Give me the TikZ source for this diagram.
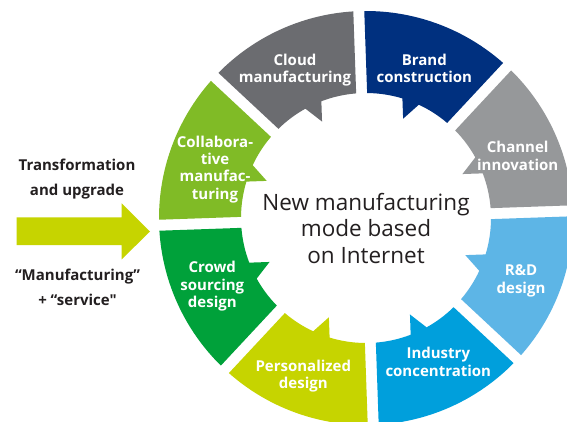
\documentclass[tikz,border=0pt]{standalone}
\usepackage{fontspec}
\newfontfamily\osans{Open Sans}
\definecolor{cCloud}{HTML}{6B6C70}
\definecolor{cBrand}{HTML}{00307F}
\definecolor{cChannel}{HTML}{96989A}
\definecolor{cRD}{HTML}{5DB5E6}
\definecolor{cIndustry}{HTML}{009FDC}
\definecolor{cPerson}{HTML}{C6D400}
\definecolor{cCrowd}{HTML}{00A13A}
\definecolor{cCollab}{HTML}{80BB26}
\definecolor{cText}{HTML}{231F20}
\tikzset{
  ringseg/.pic={
    \path[pic actions] (46.52:207) arc[start angle=46.52,end angle=88.48,radius=207]
      -- (87.48:125) arc[start angle=87.48,end angle=71.07,radius=125]
      -- (67.5:106) -- (63:125) arc[start angle=63,end angle=47.52,radius=125] -- cycle;
  },
  seglabel/.style={font=\osans\bfseries\fontsize{15}{17.3}\selectfont,text=white,align=center,anchor=base,inner sep=0pt},
  sidelabel/.style={font=\osans\bfseries\fontsize{15}{24.5}\selectfont,text=cText,align=center,anchor=base,inner sep=0pt},
  centerlabel/.style={font=\osans\fontsize{22.5}{26.5}\selectfont,text=cText,align=center,anchor=base,inner sep=0pt},
  bigarrow/.style={fill=cPerson,draw=none}
}
\begin{document}
\begin{tikzpicture}[x=1pt,y=-1pt]
\useasboundingbox (0,0) rectangle (567,421);
\clip (0,0) rectangle (567,421);
\fill[white] (0,0) rectangle (567,421);
\begin{scope}[shift={(366,218)},rotate=2,y=1pt]
  \pic[transform shape,fill=cBrand] (brand) {ringseg};
  \pic[transform shape,fill=cCloud,xscale=-1] (cloud) {ringseg};
  \pic[transform shape,fill=cChannel,cm={0,1,1,0,(0,0)}] (channel) {ringseg};
  \pic[transform shape,fill=cRD,rotate=-90] (rd) {ringseg};
  \pic[transform shape,fill=cIndustry,yscale=-1] (industry) {ringseg};
  \pic[transform shape,fill=cPerson,rotate=180] (person) {ringseg};
  \pic[transform shape,fill=cCrowd,cm={0,-1,-1,0,(0,0)}] (crowd) {ringseg};
  \pic[transform shape,fill=cCollab,rotate=90] (collab) {ringseg};
\end{scope}
\node[centerlabel] (centre) at (366,263) {New manufacturing\\mode based\\on Internet};
\node[seglabel] (lcloud) at (295,82.5) {Cloud\\manufacturing};
\node[seglabel] (lbrand) at (424.3,82.3) {Brand\\construction};
\node[seglabel] (lchannel) at (517.7,170) {Channel\\innovation};
\node[seglabel] (lrd) at (521,293) {R\&D\\design};
\node[seglabel] (lindustry) at (438.3,376) {Industry\\concentration};
\node[seglabel] (lperson) at (303.3,388.3) {Personalized\\design};
\node[seglabel] (lcrowd) at (212.3,307.3) {Crowd\\sourcing\\design};
\node[seglabel] (lcollab) at (215,199) {Collabora-\\tive\\manufac-\\turing};
\node[sidelabel] (ltrans) at (77,195) {Transformation\\and upgrade};
\node[sidelabel] (lserv) at (77.5,305) {“Manufacturing”\\+ “service"};
\fill[bigarrow] (16.7,217.3) -- (121.7,217.3) -- (121.7,203.3) -- (150,231.5)
  -- (121.7,259.3) -- (121.7,245) -- (16.7,245) -- cycle;
\end{tikzpicture}
\end{document}
